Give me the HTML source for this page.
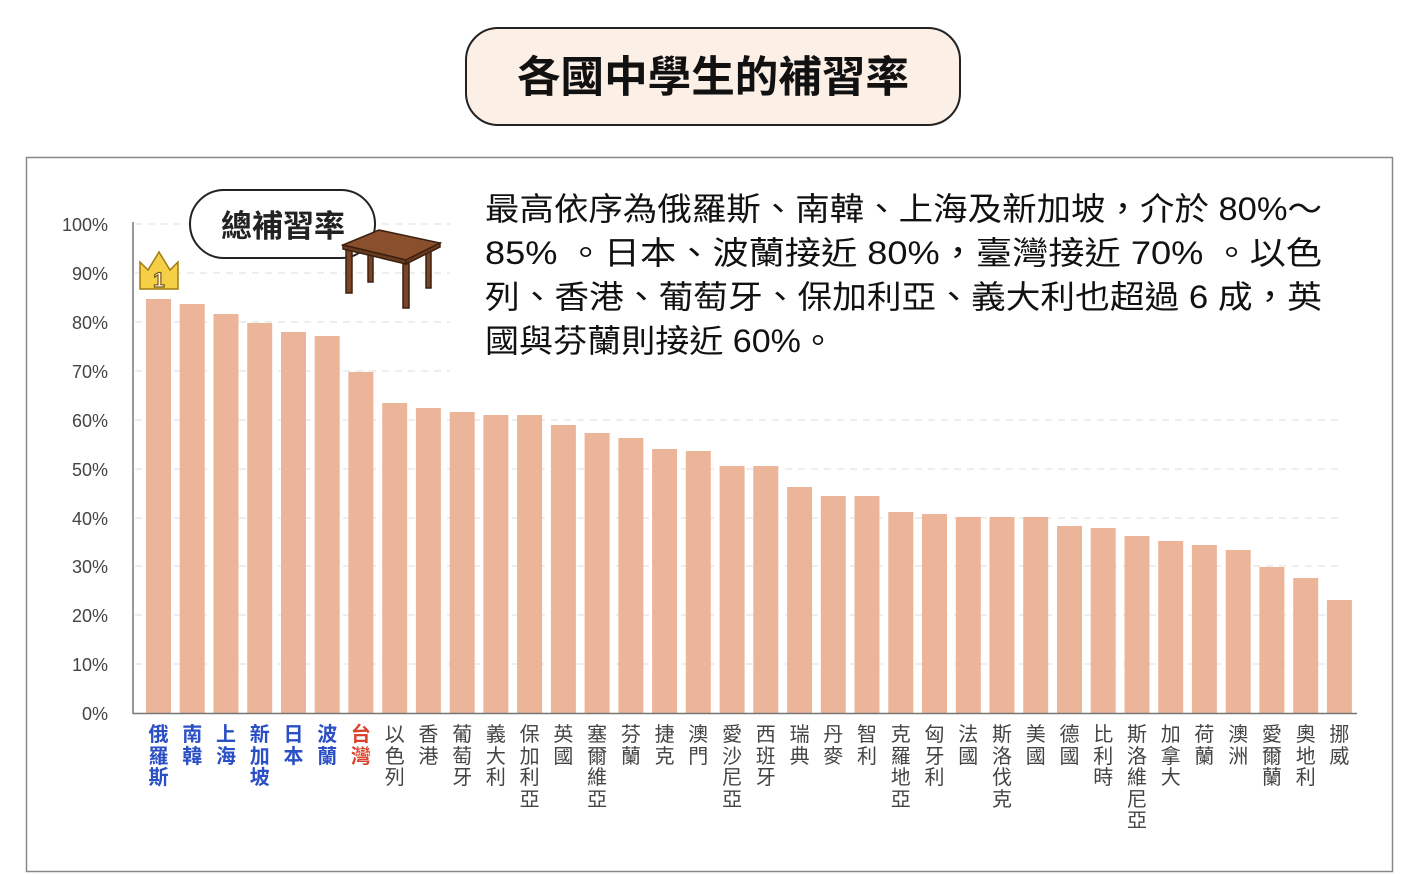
<!DOCTYPE html>
<html><head><meta charset="utf-8"><style>
html,body{margin:0;padding:0;background:#fff;}
body{position:relative;width:1420px;height:874px;overflow:hidden;}
svg{display:block;font-family:"Liberation Sans","Noto Sans CJK TC",sans-serif;}
.lb{position:absolute;top:725px;width:24px;font-family:"Liberation Sans","Noto Sans CJK TC",sans-serif;font-size:20px;line-height:21.5px;text-align:center;color:#444;word-break:break-all;}
.b{color:#2b4fc4;font-weight:bold;}
.r{color:#d8432a;font-weight:bold;}
</style></head><body>
<svg width="1420" height="874" viewBox="0 0 1420 874" xmlns="http://www.w3.org/2000/svg">
<rect x="466" y="28" width="494" height="97" rx="32" fill="#fcefe6" stroke="#222" stroke-width="2"/>
<text x="713" y="92" text-anchor="middle" font-size="43" font-weight="bold" fill="#111" textLength="392" lengthAdjust="spacingAndGlyphs">各國中學生的補習率</text>
<rect x="26.5" y="157.5" width="1366" height="714" fill="#fff" stroke="#888" stroke-width="1.5"/>
<g stroke="#ddd" stroke-width="1" stroke-dasharray="7,6">
<line x1="135" y1="224" x2="450" y2="224"/><line x1="135" y1="273" x2="450" y2="273"/>
<line x1="135" y1="322" x2="450" y2="322"/><line x1="135" y1="371" x2="450" y2="371"/>
<line x1="135" y1="420" x2="1340" y2="420"/><line x1="135" y1="469" x2="1340" y2="469"/>
<line x1="135" y1="518" x2="1340" y2="518"/><line x1="135" y1="566" x2="1340" y2="566"/>
<line x1="135" y1="615" x2="1340" y2="615"/><line x1="135" y1="664" x2="1340" y2="664"/>
</g>
<g font-size="18" fill="#444" text-anchor="end">
<text x="108" y="231">100%</text><text x="108" y="280">90%</text><text x="108" y="329">80%</text>
<text x="108" y="378">70%</text><text x="108" y="427">60%</text><text x="108" y="476">50%</text>
<text x="108" y="525">40%</text><text x="108" y="573">30%</text><text x="108" y="622">20%</text>
<text x="108" y="671">10%</text><text x="108" y="720">0%</text>
</g>
<g fill="#ecb59a">
<rect x="146.0" y="299" width="25" height="414"/>
<rect x="179.7" y="304" width="25" height="409"/>
<rect x="213.5" y="314" width="25" height="399"/>
<rect x="247.2" y="323" width="25" height="390"/>
<rect x="281.0" y="332" width="25" height="381"/>
<rect x="314.7" y="336" width="25" height="377"/>
<rect x="348.4" y="372" width="25" height="341"/>
<rect x="382.2" y="403" width="25" height="310"/>
<rect x="415.9" y="408" width="25" height="305"/>
<rect x="449.7" y="412" width="25" height="301"/>
<rect x="483.4" y="415" width="25" height="298"/>
<rect x="517.1" y="415" width="25" height="298"/>
<rect x="550.9" y="425" width="25" height="288"/>
<rect x="584.6" y="433" width="25" height="280"/>
<rect x="618.4" y="438" width="25" height="275"/>
<rect x="652.1" y="449" width="25" height="264"/>
<rect x="685.8" y="451" width="25" height="262"/>
<rect x="719.6" y="466" width="25" height="247"/>
<rect x="753.3" y="466" width="25" height="247"/>
<rect x="787.1" y="487" width="25" height="226"/>
<rect x="820.8" y="496" width="25" height="217"/>
<rect x="854.5" y="496" width="25" height="217"/>
<rect x="888.3" y="512" width="25" height="201"/>
<rect x="922.0" y="514" width="25" height="199"/>
<rect x="955.8" y="517" width="25" height="196"/>
<rect x="989.5" y="517" width="25" height="196"/>
<rect x="1023.2" y="517" width="25" height="196"/>
<rect x="1057.0" y="526" width="25" height="187"/>
<rect x="1090.7" y="528" width="25" height="185"/>
<rect x="1124.5" y="536" width="25" height="177"/>
<rect x="1158.2" y="541" width="25" height="172"/>
<rect x="1191.9" y="545" width="25" height="168"/>
<rect x="1225.7" y="550" width="25" height="163"/>
<rect x="1259.4" y="567" width="25" height="146"/>
<rect x="1293.2" y="578" width="25" height="135"/>
<rect x="1326.9" y="600" width="25" height="113"/>
</g>
<line x1="133" y1="222" x2="133" y2="714" stroke="#777" stroke-width="1.5"/>
<line x1="133" y1="713.5" x2="1357" y2="713.5" stroke="#777" stroke-width="1.5"/>
<rect x="190" y="190" width="185" height="68" rx="34" fill="#fff" stroke="#222" stroke-width="2"/>
<text x="283" y="237" text-anchor="middle" font-size="31" font-weight="bold" fill="#222">總補習率</text>
<g stroke="#3a2010" stroke-width="1.5">
<rect x="346" y="248" width="6" height="45" fill="#7a4426"/>
<rect x="368" y="252" width="5" height="30" fill="#7a4426"/>
<rect x="426" y="252" width="5" height="36" fill="#7a4426"/>
<rect x="403" y="258" width="6" height="50" fill="#7a4426"/>
<polygon points="343,245 379,230 440,243 406,260" fill="#8a4f2c"/>
<polygon points="343,245 406,260 406,264 343,249" fill="#6a3a1e"/>
<polygon points="406,260 440,243 440,247 406,264" fill="#6a3a1e"/>
</g>
<polygon points="140,289 140,262 148,270 159,252 170,270 178,262 178,289" fill="#f5cf45" stroke="#a07c10" stroke-width="1.5"/>
<text x="159" y="287" text-anchor="middle" font-size="21" font-weight="bold" fill="#fff" stroke="#7a5a10" stroke-width="1.2">1</text>
<g font-size="32" fill="#111">
<text x="485" y="220" textLength="837" lengthAdjust="spacingAndGlyphs">最高依序為俄羅斯、南韓、上海及新加坡，介於 80%～</text>
<text x="485" y="264" textLength="837" lengthAdjust="spacingAndGlyphs">85% 。日本、波蘭接近 80%，臺灣接近 70% 。以色</text>
<text x="485" y="308" textLength="837" lengthAdjust="spacingAndGlyphs">列、香港、葡萄牙、保加利亞、義大利也超過 6 成，英</text>
<text x="485" y="352" textLength="350" lengthAdjust="spacingAndGlyphs">國與芬蘭則接近 60%。</text>
</g>
</svg>
<div class="lb b" style="left:146.5px">俄羅斯</div>
<div class="lb b" style="left:180.2px">南韓</div>
<div class="lb b" style="left:214.0px">上海</div>
<div class="lb b" style="left:247.7px">新加坡</div>
<div class="lb b" style="left:281.5px">日本</div>
<div class="lb b" style="left:315.2px">波蘭</div>
<div class="lb r" style="left:348.9px">台灣</div>
<div class="lb" style="left:382.7px">以色列</div>
<div class="lb" style="left:416.4px">香港</div>
<div class="lb" style="left:450.2px">葡萄牙</div>
<div class="lb" style="left:483.9px">義大利</div>
<div class="lb" style="left:517.6px">保加利亞</div>
<div class="lb" style="left:551.4px">英國</div>
<div class="lb" style="left:585.1px">塞爾維亞</div>
<div class="lb" style="left:618.9px">芬蘭</div>
<div class="lb" style="left:652.6px">捷克</div>
<div class="lb" style="left:686.3px">澳門</div>
<div class="lb" style="left:720.1px">愛沙尼亞</div>
<div class="lb" style="left:753.8px">西班牙</div>
<div class="lb" style="left:787.6px">瑞典</div>
<div class="lb" style="left:821.3px">丹麥</div>
<div class="lb" style="left:855.0px">智利</div>
<div class="lb" style="left:888.8px">克羅地亞</div>
<div class="lb" style="left:922.5px">匈牙利</div>
<div class="lb" style="left:956.3px">法國</div>
<div class="lb" style="left:990.0px">斯洛伐克</div>
<div class="lb" style="left:1023.7px">美國</div>
<div class="lb" style="left:1057.5px">德國</div>
<div class="lb" style="left:1091.2px">比利時</div>
<div class="lb" style="left:1125.0px">斯洛維尼亞</div>
<div class="lb" style="left:1158.7px">加拿大</div>
<div class="lb" style="left:1192.4px">荷蘭</div>
<div class="lb" style="left:1226.2px">澳洲</div>
<div class="lb" style="left:1259.9px">愛爾蘭</div>
<div class="lb" style="left:1293.7px">奧地利</div>
<div class="lb" style="left:1327.4px">挪威</div>
</body></html>
